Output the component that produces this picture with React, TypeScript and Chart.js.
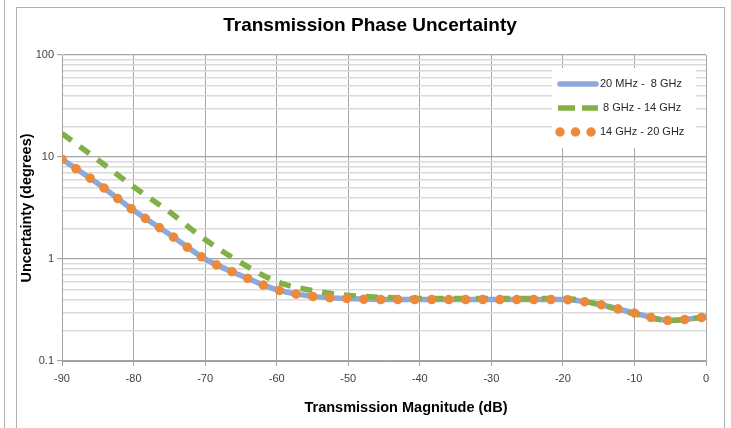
import React, { useEffect, useRef } from "react";
import { Chart, registerables } from "chart.js";

Chart.register(...registerables);

// ---- data ----
const magnitudeDb = [-90, -85, -80, -75, -70, -65, -60, -55, -50, -45, -40, -35, -30, -25, -20, -15, -10, -5, 0];
const band20MHzTo8GHz = [9.5, 5.5, 3.0, 1.75, 1.0, 0.69, 0.5, 0.43, 0.41, 0.4, 0.4, 0.4, 0.4, 0.4, 0.4, 0.36, 0.295, 0.25, 0.27];
const band8To14GHz = [17, 9.4, 5.1, 2.9, 1.55, 0.92, 0.6, 0.49, 0.44, 0.42, 0.41, 0.41, 0.41, 0.41, 0.41, 0.36, 0.29, 0.25, 0.27];
const band14To20GHz = [9.5, 5.5, 3.0, 1.75, 1.0, 0.69, 0.5, 0.43, 0.41, 0.4, 0.4, 0.4, 0.4, 0.4, 0.4, 0.36, 0.295, 0.25, 0.27];
const seriesLabels = ["20 MHz -  8 GHz", " 8 GHz - 14 GHz", "14 GHz - 20 GHz"];
const xTickValues = [-90, -80, -70, -60, -50, -40, -30, -20, -10, 0];
const yDecades = [0.1, 1, 10, 100];
const yTickLabels = ["0.1", "1", "10", "100"];
const chartTitle = "Transmission Phase Uncertainty";
const xAxisTitle = "Transmission Magnitude (dB)";
const yAxisTitle = "Uncertainty (degrees)";

const FONT = "'Liberation Sans', Arial, sans-serif";

const isDecade = (v: number) => yDecades.some((d) => Math.abs(v - d) / d < 1e-6);

const overlayPlugin = {
  id: "overlay",
  afterDraw(chart: any) {
    const ctx = chart.ctx as CanvasRenderingContext2D;
    const area = chart.chartArea;
    ctx.save();
    ctx.fillStyle = "#000000";
    ctx.textAlign = "center";
    ctx.textBaseline = "middle";
    ctx.font = `bold 19px ${FONT}`;
    ctx.fillText(chartTitle, 370, 26);
    ctx.font = `bold 14.5px ${FONT}`;
    ctx.fillText(xAxisTitle, 406, 408);
    ctx.save();
    ctx.translate(26.5, (area.top + area.bottom) / 2);
    ctx.rotate(-Math.PI / 2);
    ctx.fillText(yAxisTitle, 0, 0);
    ctx.restore();

    // legend
    const boxL = area.right - 154;
    const boxT = area.top + 13;
    ctx.fillStyle = "#ffffff";
    ctx.fillRect(boxL, boxT, 144, 80);
    const rows = [area.top + 29, area.top + 53, area.top + 77];
    chart.data.datasets.forEach((ds: any, i: number) => {
      const y = rows[i];
      ctx.save();
      ctx.strokeStyle = ds.borderColor;
      ctx.lineWidth = ds.borderWidth;
      ctx.lineCap = ds.legendCap || "butt";
      ctx.setLineDash(ds.legendDash || []);
      ctx.beginPath();
      ctx.moveTo(boxL + ds.legendStart, y);
      ctx.lineTo(boxL + ds.legendEnd, y);
      ctx.stroke();
      ctx.restore();
      ctx.fillStyle = "#262626";
      ctx.textAlign = "left";
      ctx.textBaseline = "middle";
      ctx.font = `11px ${FONT}`;
      ctx.fillText(seriesLabels[i], boxL + 48, y);
    });
    ctx.restore();
  },
};

export default function App() {
  const canvasRef = useRef<HTMLCanvasElement | null>(null);

  useEffect(() => {
    if (!canvasRef.current) return;
    const toPoints = (arr: number[]) => magnitudeDb.map((x, i) => ({ x, y: arr[i] }));
    const chart = new Chart(canvasRef.current, {
      type: "line",
      data: {
        datasets: [
          {
            label: seriesLabels[0],
            data: toPoints(band20MHzTo8GHz),
            borderColor: "#8DA9DB",
            borderWidth: 5.5,
            borderCapStyle: "round",
            pointRadius: 0,
            cubicInterpolationMode: "monotone",
            order: 3,
            legendStart: 8,
            legendEnd: 44,
            legendCap: "round",
          } as any,
          {
            label: seriesLabels[1],
            data: toPoints(band8To14GHz),
            borderColor: "#82AF48",
            borderWidth: 5.5,
            borderDash: [12, 10],
            pointRadius: 0,
            cubicInterpolationMode: "monotone",
            order: 2,
            legendStart: 6,
            legendEnd: 46,
            legendDash: [17, 7],
          } as any,
          {
            label: seriesLabels[2],
            data: toPoints(band14To20GHz),
            borderColor: "#EB8A3B",
            borderWidth: 9.5,
            borderDash: [0.01, 17],
            borderCapStyle: "round",
            pointRadius: 0,
            cubicInterpolationMode: "monotone",
            order: 1,
            legendStart: 8,
            legendEnd: 40,
            legendCap: "round",
            legendDash: [0.01, 15.5],
          } as any,
        ],
      },
      options: {
        responsive: false,
        animation: false,
        layout: { padding: { left: 0, top: 55, right: 25, bottom: 0 } },
        plugins: {
          legend: { display: false },
          title: { display: false },
          tooltip: { enabled: false },
        },
        scales: {
          x: {
            type: "linear",
            min: -90,
            max: 0,
            afterBuildTicks: (scale: any) => {
              scale.ticks = xTickValues.map((v) => ({ value: v }));
            },
            afterFit: (scale: any) => {
              scale.height = 67;
            },
            ticks: {
              autoSkip: false,
              maxRotation: 0,
              padding: 6,
              color: "#404040",
              font: { family: FONT, size: 11 },
              callback: (v: any) => String(v),
            },
            grid: {
              color: "#a6a6a6",
              lineWidth: 1,
              drawTicks: true,
              tickLength: 5,
              tickColor: "#a6a6a6",
            },
            border: { display: true, color: "#a0a0a0", width: 1 },
          },
          y: {
            type: "logarithmic",
            min: 0.1,
            max: 100,
            afterBuildTicks: (scale: any) => {
              const ticks: { value: number }[] = [];
              yDecades.forEach((d, i) => {
                ticks.push({ value: d });
                if (i < yDecades.length - 1) {
                  for (let m = 2; m <= 9; m++) ticks.push({ value: +(d * m).toPrecision(6) });
                }
              });
              scale.ticks = ticks;
            },
            afterFit: (scale: any) => {
              scale.width = 62;
            },
            ticks: {
              autoSkip: false,
              padding: 3,
              color: "#404040",
              font: { family: FONT, size: 11 },
              callback: (v: any) => {
                const idx = yDecades.findIndex((d) => Math.abs(v - d) / d < 1e-6);
                return idx >= 0 ? yTickLabels[idx] : "";
              },
            },
            grid: {
              color: (c: any) => (c.tick && isDecade(c.tick.value) ? "#a6a6a6" : "#d9d9d9"),
              lineWidth: (c: any) => (c.tick && isDecade(c.tick.value) ? 1.2 : 1.5),
              drawTicks: true,
              tickLength: 5,
              tickColor: (c: any) => (c.tick && isDecade(c.tick.value) ? "#a6a6a6" : "rgba(0,0,0,0)"),
            },
            border: { display: true, color: "#a0a0a0", width: 1 },
          },
        },
      } as any,
      plugins: [overlayPlugin],
    });
    return () => chart.destroy();
  }, []);

  return (
    <div
      style={{
        position: "fixed",
        left: 0,
        top: 0,
        width: 731,
        height: 428,
        background: "#ffffff",
        overflow: "hidden",
      }}
    >
      <div style={{ position: "absolute", left: 4, top: 0, width: 0, height: 428, borderLeft: "1px solid #b0b0b0" }} />
      <div
        style={{
          position: "absolute",
          left: 16,
          top: 7,
          width: 707,
          height: 440,
          border: "1px solid #b0b0b0",
        }}
      />
      <canvas
        ref={canvasRef}
        width={731}
        height={428}
        style={{ position: "absolute", left: 0, top: 0, width: 731, height: 428 }}
      />
    </div>
  );
}
